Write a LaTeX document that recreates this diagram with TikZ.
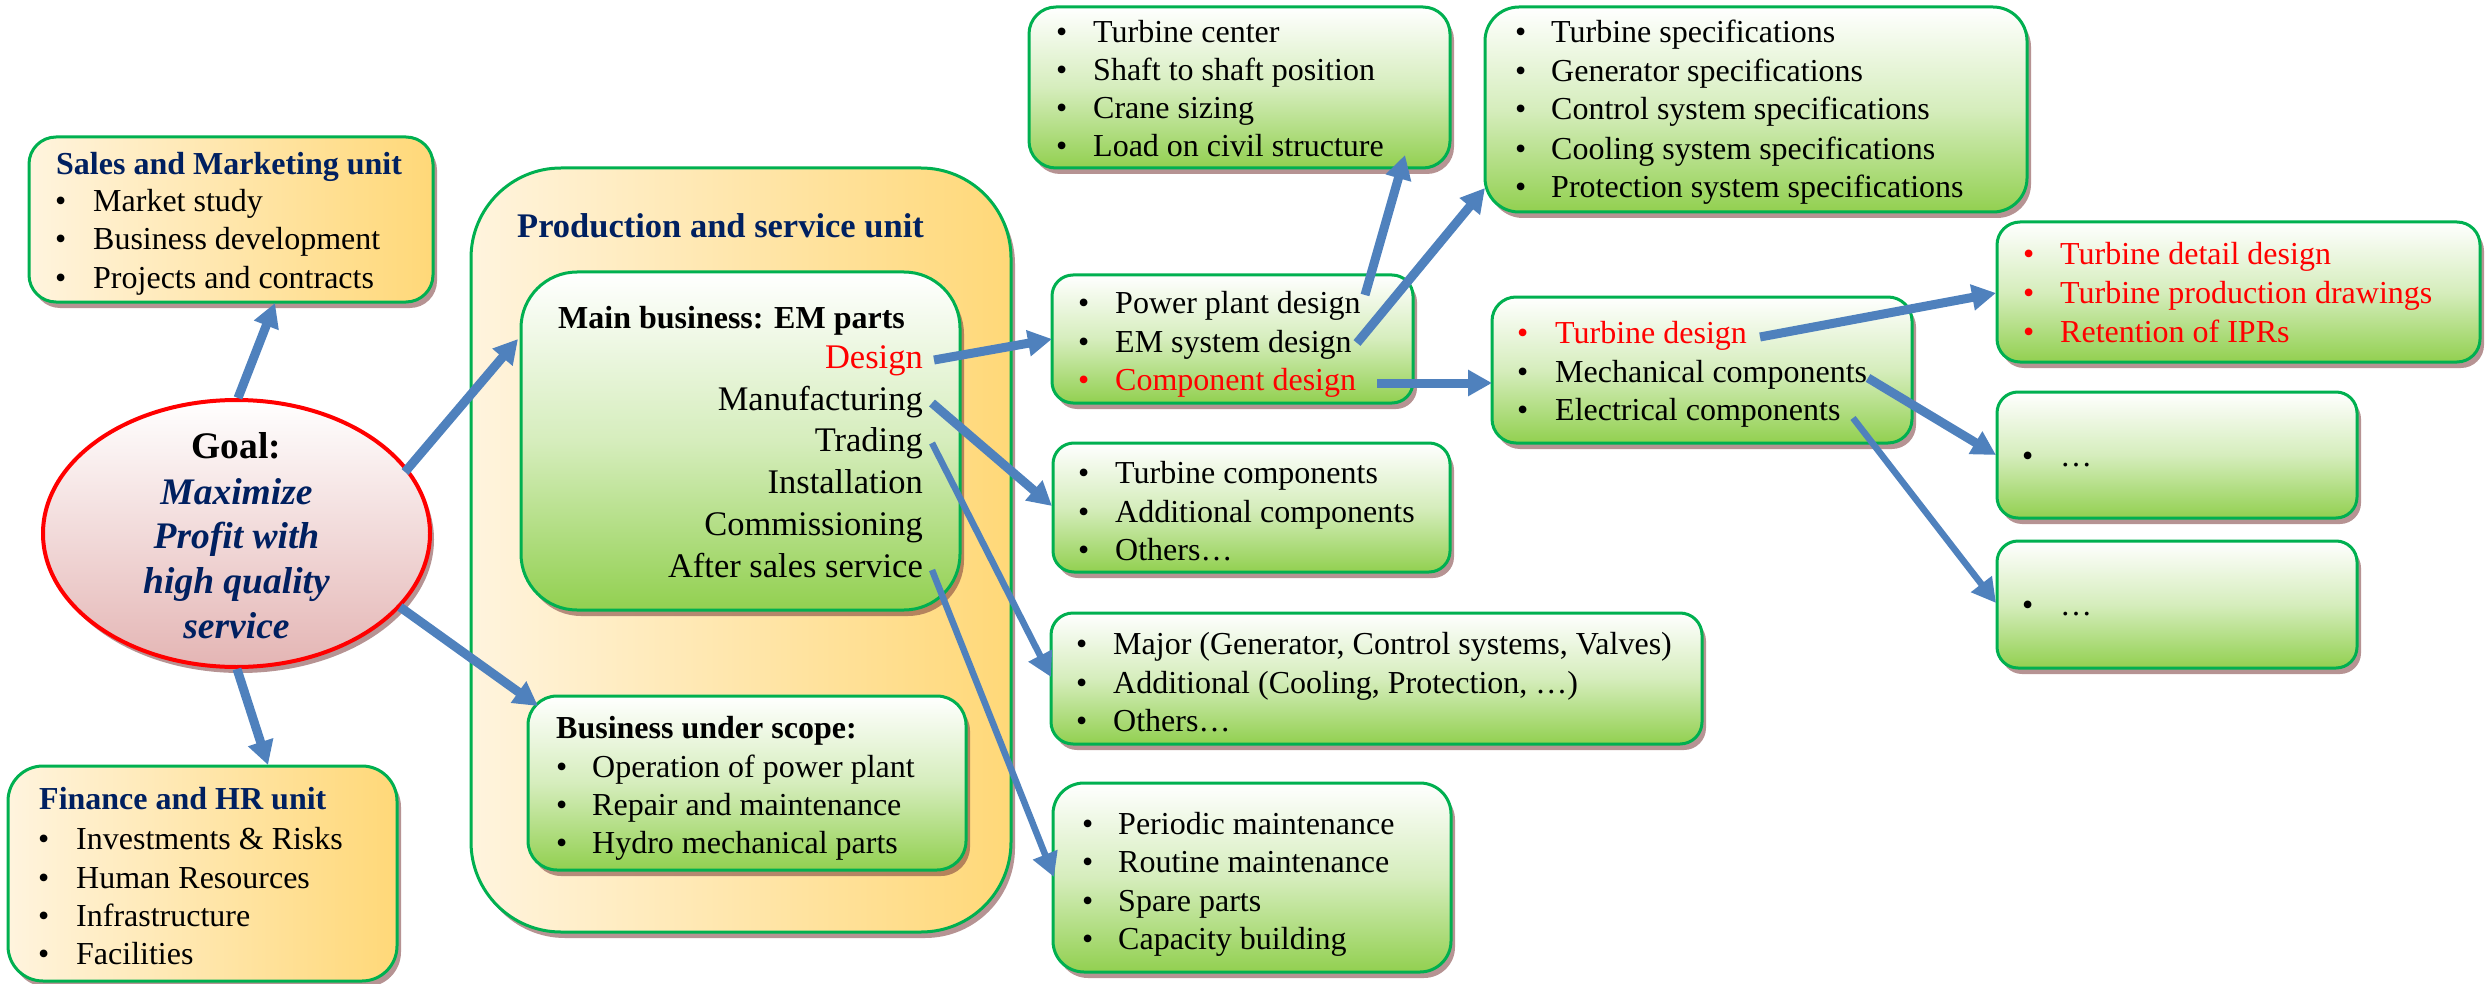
\documentclass[tikz,border=0pt]{standalone}
\usepackage{fontspec}
\setmainfont{Liberation Serif}
\usetikzlibrary{shapes.geometric,shadows,fit,arrows.meta}

\definecolor{bord}{HTML}{00B050}
\definecolor{grn}{HTML}{92D050}
\definecolor{orL}{HTML}{FFF4DE}
\definecolor{orR}{HTML}{FFD878}
\definecolor{navy}{HTML}{002060}
\definecolor{arrc}{HTML}{4F81BD}
\definecolor{shadowc}{HTML}{7A3A3A}
\definecolor{pinkb}{HTML}{E4B5B4}
\definecolor{redt}{HTML}{FF0000}

\tikzset{
  shd/.style={drop shadow={shadow xshift=4pt,shadow yshift=-6pt,fill=shadowc,opacity=0.55}},
  greenbox/.style={draw=bord,line width=3pt,top color=white,bottom color=grn,middle color=grn!38!white,shd,inner sep=0pt},
  goldbox/.style={draw=bord,line width=3pt,left color=orL,right color=orR,shd,inner sep=0pt},
  itm/.style={font=\fontsize{32}{38}\selectfont,inner sep=0pt,anchor=base west},
  unittitle/.style={font=\fontsize{32}{38}\selectfont\bfseries,inner sep=0pt,anchor=base west},
  mainitm/.style={font=\fontsize{34.5}{41}\selectfont,inner sep=0pt,anchor=base east},
  goaltxt/.style={font=\fontsize{37.5}{45}\selectfont\bfseries\itshape,text=navy,inner sep=0pt,anchor=base},
  arr/.style={draw=arrc,line width=9pt,-{Triangle[length=24pt,width=25pt]}},
  thinarr/.style={arr,line width=6.5pt},
}

% bullet line: [colour]{name}{bullet x}{text x}{baseline y}{text}
\newcommand{\bitem}[6][black]{%
  \node[itm,text=#1] (#2b) at (#3,#5) {•};
  \node[itm,text=#1] (#2) at (#4,#5) {#6};}

\begin{document}
\begin{tikzpicture}[x=1pt,y=-1pt]
\useasboundingbox (0,0) rectangle (2491,984);

% ---------- left column ----------
\node[goldbox,rounded corners=27pt,fit={(29,137) (433,302)}] (sales) {};
\node[unittitle,text=navy] (salest) at (56,175) {Sales and Marketing unit};
\bitem{s1}{55}{93}{212}{Market study}
\bitem{s2}{55}{93}{250}{Business development}
\bitem{s3}{55}{93}{288}{Projects and contracts}

\node[ellipse,draw=redt,line width=4pt,top color=white,bottom color=pinkb,shd,
      minimum width=387pt,minimum height=267pt,inner sep=0pt] (goal) at (236.5,533.5) {};
\node[font=\fontsize{37.5}{45}\selectfont\bfseries,inner sep=0pt,anchor=base] (g0) at (236.5,458) {Goal:};
\node[goaltxt] (g1) at (236.5,504) {Maximize};
\node[goaltxt] (g2) at (236.5,548) {Profit with};
\node[goaltxt] (g3) at (236.5,593) {high quality};
\node[goaltxt] (g4) at (236.5,638) {service};

\node[goldbox,rounded corners=35pt,fit={(8,766) (397,981)}] (fin) {};
\node[unittitle,text=navy] (fint) at (39,809) {Finance and HR unit};
\bitem{f1}{38}{76}{849}{Investments \& Risks}
\bitem{f2}{38}{76}{888}{Human Resources}
\bitem{f3}{38}{76}{926}{Infrastructure}
\bitem{f4}{38}{76}{964}{Facilities}

% ---------- production and service unit ----------
\node[goldbox,rounded corners=90pt,fit={(471,168) (1011,932)}] (prod) {};
\node[font=\fontsize{34.5}{41}\selectfont\bfseries,text=navy,inner sep=0pt,anchor=base west] (prodt) at (517,238) {Production and service unit};

\node[greenbox,rounded corners=56pt,fit={(521,272) (960,610)}] (mb) {};
\node[unittitle] (mbt) at (558,328) {Main business: EM parts};
\node[mainitm,text=redt] (design) at (923,368) {Design};
\node[mainitm] (manuf) at (923,410) {Manufacturing};
\node[mainitm] (trading) at (923,451.5) {Trading};
\node[mainitm] (install) at (923,493) {Installation};
\node[mainitm] (commis) at (923,535) {Commissioning};
\node[mainitm] (aftersales) at (923,577) {After sales service};

\node[greenbox,rounded corners=29pt,fit={(528,696) (966,870)}] (bus) {};
\node[unittitle] (bust) at (556,738) {Business under scope:};
\bitem{b1}{556}{592}{777}{Operation of power plant}
\bitem{b2}{556}{592}{815}{Repair and maintenance}
\bitem{b3}{556}{592}{853}{Hydro mechanical parts}

% ---------- design branch ----------
\node[greenbox,rounded corners=27pt,fit={(1029,7) (1450,168)}] (tc) {};
\bitem{tc1}{1056}{1093}{43}{Turbine center}
\bitem{tc2}{1056}{1093}{81}{Shaft to shaft position}
\bitem{tc3}{1056}{1093}{119}{Crane sizing}
\bitem{tc4}{1056}{1093}{157}{Load on civil structure}

\node[greenbox,rounded corners=21pt,fit={(1052,275) (1413,403)}] (ppd) {};
\bitem{p1}{1078}{1115}{313}{Power plant design}
\bitem{p2}{1078}{1115}{352}{EM system design}
\bitem[redt]{p3}{1078}{1115}{390}{Component design}

\node[greenbox,rounded corners=34pt,fit={(1485,7) (2027,212)}] (spec) {};
\bitem{sp1}{1515}{1551}{43}{Turbine specifications}
\bitem{sp2}{1515}{1551}{82}{Generator specifications}
\bitem{sp3}{1515}{1551}{120}{Control system specifications}
\bitem{sp4}{1515}{1551}{160}{Cooling system specifications}
\bitem{sp5}{1515}{1551}{198}{Protection system specifications}

\node[greenbox,rounded corners=24pt,fit={(1492,297) (1912,443)}] (tdes) {};
\bitem[redt]{td1}{1517}{1555}{343}{Turbine design}
\bitem{td2}{1517}{1555}{382}{Mechanical components}
\bitem{td3}{1517}{1555}{420}{Electrical components}

\node[greenbox,rounded corners=23pt,fit={(1997,222) (2480,362)}] (tdet) {};
\bitem[redt]{dd1}{2023}{2060}{265}{Turbine detail design}
\bitem[redt]{dd2}{2023}{2060}{303}{Turbine production drawings}
\bitem[redt]{dd3}{2023}{2060}{342}{Retention of IPRs}

\node[greenbox,rounded corners=21pt,fit={(1997,392) (2357,518)}] (dmech) {};
\bitem{dm1}{2022}{2060}{466}{…}
\node[greenbox,rounded corners=21pt,fit={(1997,541) (2357,668)}] (delec) {};
\bitem{de1}{2022}{2060}{615}{…}

% ---------- other activities ----------
\node[greenbox,rounded corners=21pt,fit={(1053,443) (1450,572)}] (mfg) {};
\bitem{m1}{1078}{1115}{483}{Turbine components}
\bitem{m2}{1078}{1115}{522}{Additional components}
\bitem{m3}{1078}{1115}{560}{Others…}

\node[greenbox,rounded corners=22pt,fit={(1051,613) (1702,744)}] (trd) {};
\bitem{t1}{1076}{1113}{654}{Major (Generator, Control systems, Valves)}
\bitem{t2}{1076}{1113}{693}{Additional (Cooling, Protection, …)}
\bitem{t3}{1076}{1113}{731}{Others…}

\node[greenbox,rounded corners=31pt,fit={(1053,783) (1451,972)}] (asv) {};
\bitem{a1}{1082}{1118}{834}{Periodic maintenance}
\bitem{a2}{1082}{1118}{872}{Routine maintenance}
\bitem{a3}{1082}{1118}{911}{Spare parts}
\bitem{a4}{1082}{1118}{949}{Capacity building}

% ---------- connector end points ----------
\coordinate (c1s) at (238,398);   \coordinate (c1e) at (275,303);
\coordinate (c2s) at (237,669);   \coordinate (c2e) at (268,765);
\coordinate (c3s) at (405,472);   \coordinate (c3e) at (518,339);
\coordinate (c4s) at (400,607);   \coordinate (c4e) at (538,706);
\coordinate (c5s) at (934,360);   \coordinate (c5e) at (1052,339);
\coordinate (c6s) at (932,403);   \coordinate (c6e) at (1052,506);
\coordinate (c7s) at (932,443);   \coordinate (c7e) at (1051,677);
\coordinate (c8s) at (932,570);   \coordinate (c8e) at (1054,877);
\coordinate (c9s) at (1365,295);  \coordinate (c9e) at (1405,155);
\coordinate (c10s) at (1357,343); \coordinate (c10e) at (1485,188);
\coordinate (c11s) at (1377,383); \coordinate (c11e) at (1492,383);
\coordinate (c12s) at (1760,337); \coordinate (c12e) at (1996,293);
\coordinate (c13s) at (1868,378); \coordinate (c13e) at (1996,455);
\coordinate (c14s) at (1853,418); \coordinate (c14e) at (1996,603);

% ---------- connectors ----------
\draw[arr] (c1s) -- (c1e);
\draw[arr] (c2s) -- (c2e);
\draw[arr] (c3s) -- (c3e);
\draw[arr] (c4s) -- (c4e);
\draw[arr] (c5s) -- (c5e);
\draw[arr] (c6s) -- (c6e);
\draw[thinarr] (c7s) -- (c7e);
\draw[thinarr] (c8s) -- (c8e);
\draw[arr] (c9s) -- (c9e);
\draw[arr] (c10s) -- (c10e);
\draw[arr] (c11s) -- (c11e);
\draw[arr] (c12s) -- (c12e);
\draw[arr] (c13s) -- (c13e);
\draw[thinarr] (c14s) -- (c14e);
\end{tikzpicture}
\end{document}
